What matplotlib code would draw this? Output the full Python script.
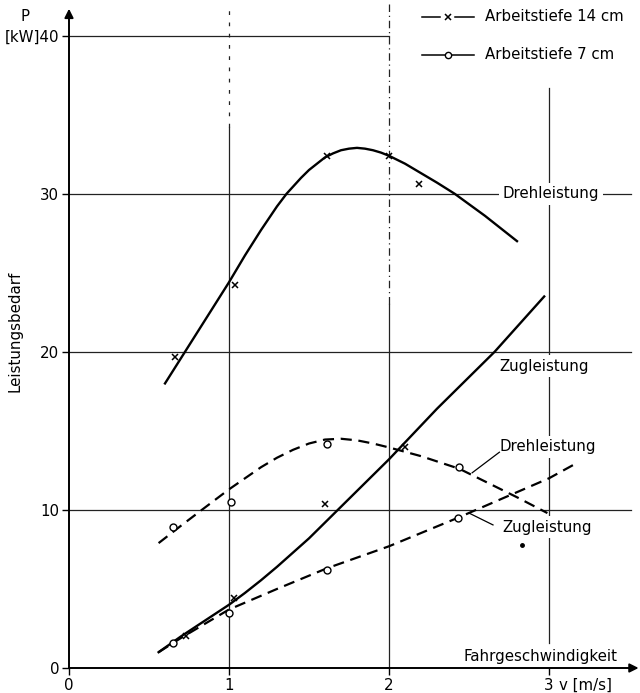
import matplotlib.pyplot as plt

# Leistungsbedarf über Fahrgeschwindigkeit, zwei Arbeitstiefen
# Arbeitstiefe 14 cm (durchgezogen, Messpunkte x)
dreh14_v = [0.6, 0.725, 0.85, 1.0, 1.1, 1.2, 1.3, 1.36, 1.45, 1.5, 1.55, 1.6, 1.65, 1.7, 1.75, 1.8,
            1.85, 1.9, 1.95, 2.0, 2.1, 2.2, 2.3, 2.41, 2.6, 2.8]
dreh14_p = [18.0, 20.0, 22.0, 24.4, 26.1, 27.7, 29.2, 30.0, 31.0, 31.5, 31.9, 32.3, 32.55, 32.75, 32.85, 32.9,
            32.85, 32.75, 32.6, 32.4, 31.9, 31.3, 30.7, 30.0, 28.6, 27.0]
zug14_v = [0.56, 0.7, 0.85, 1.0, 1.1, 1.2, 1.3, 1.4, 1.5, 1.6, 1.68, 2.0, 2.3, 2.66, 2.97]
zug14_p = [1.0, 2.0, 3.0, 4.0, 4.75, 5.55, 6.4, 7.3, 8.2, 9.2, 10.0, 13.2, 16.4, 20.0, 23.5]
mess14_v = [0.66, 1.04, 1.61, 2.0, 2.19, 0.73, 1.03, 1.6, 2.1]
mess14_p = [19.7, 24.2, 32.4, 32.4, 30.6, 2.0, 4.4, 10.4, 14.0]

# Arbeitstiefe 7 cm (gestrichelt, Messpunkte o)
dreh7_v = [0.56, 0.7, 0.83, 1.0, 1.1, 1.2, 1.3, 1.4, 1.5, 1.6, 1.7, 1.8, 1.9, 2.0, 2.2, 2.44, 2.6, 2.8, 2.99]
dreh7_p = [7.9, 9.0, 10.0, 11.3, 12.0, 12.7, 13.3, 13.8, 14.2, 14.45, 14.5, 14.4, 14.2, 13.95, 13.4, 12.6, 11.8, 10.8, 9.8]
zug7_v = [0.56, 0.7, 0.85, 1.0, 1.3, 1.61, 2.0, 2.43, 3.0, 3.18]
zug7_p = [1.0, 1.9, 2.8, 3.7, 5.0, 6.3, 7.7, 9.5, 12.0, 13.0]
mess7_v = [0.65, 1.01, 1.61, 2.44, 0.65, 1.0, 1.61, 2.43]
mess7_p = [8.9, 10.5, 14.2, 12.7, 1.6, 3.5, 6.2, 9.5]

fleck_v = [2.83]
fleck_p = [7.8]

x_ticks = [0, 1, 2, 3]
x_ticklabels = ['0', '1', '2', '3']
y_ticks = [0, 10, 20, 30, 40]
y_ticklabels = ['0', '10', '20', '30', '[kW]40']

FS = 10.8
grid_kw = dict(color='#222222', lw=0.9, zorder=1)

fig = plt.figure(figsize=(6.4, 6.93), dpi=100)
ax = fig.add_axes([69 / 640, 25 / 693, 568 / 640, 664 / 693])
ax.set_xlim(0, 3.55)
ax.set_ylim(0, 42)
for s in ax.spines.values():
    s.set_visible(False)

ax.set_xticks(x_ticks)
ax.set_xticklabels(x_ticklabels, fontsize=FS)
ax.set_yticks(y_ticks)
ax.set_yticklabels(y_ticklabels, fontsize=FS)
ax.tick_params(direction='out', length=5, width=1, pad=2)

# Achsen mit Pfeilen
ax.annotate('', xy=(0, 41.7), xytext=(0, 0),
            arrowprops=dict(arrowstyle='-|>', lw=1.4, color='k', mutation_scale=13, shrinkA=0, shrinkB=0))
ax.annotate('', xy=(3.56, 0), xytext=(0, 0), annotation_clip=False,
            arrowprops=dict(arrowstyle='-|>', lw=1.4, color='k', mutation_scale=13, shrinkA=0, shrinkB=0))

# Rasterlinien
for y in [10, 20, 30]:
    ax.plot([0, 3.51], [y, y], **grid_kw)
ax.plot([0, 2.0], [40, 40], **grid_kw)
ax.plot([1, 1], [0, 34.2], **grid_kw)
ax.plot([1, 1], [34.2, 42], color='#222222', lw=0.9, ls=(0, (3, 6)), zorder=1, clip_on=False)
ax.plot([2, 2], [0, 23.0], **grid_kw)
ax.plot([2, 2], [23.0, 42], color='#222222', lw=0.9, ls=(0, (6, 3, 1, 3)), zorder=1, clip_on=False)
ax.plot([3, 3], [1.6, 36.7], **grid_kw)

# Kurven
ax.plot(dreh14_v, dreh14_p, color='k', lw=1.7, zorder=3, solid_joinstyle='round')
ax.plot(zug14_v, zug14_p, color='k', lw=1.7, zorder=3, solid_joinstyle='round')
ax.plot(dreh7_v, dreh7_p, color='k', lw=1.6, ls=(0, (5, 3)), zorder=3)
ax.plot(zug7_v, zug7_p, color='k', lw=1.6, ls=(0, (5, 3)), zorder=3)
ax.plot(mess14_v, mess14_p, ls='none', marker='x', ms=4, mew=1.1, color='k', zorder=4)
ax.plot(mess7_v, mess7_p, ls='none', marker='o', ms=5, mew=1.0, mfc='white', mec='k', zorder=4)
ax.plot(fleck_v, fleck_p, ls='none', marker='o', ms=2.5, color='k', zorder=4)

# Beschriftungen
box = dict(facecolor='white', edgecolor='none', pad=2.5)
ax.text(2.71, 30.0, 'Drehleistung', fontsize=FS, va='center', ha='left', bbox=box, zorder=2)
ax.text(2.69, 19.1, 'Zugleistung', fontsize=FS, va='center', ha='left', bbox=box, zorder=2)
ax.text(2.69, 14.0, 'Drehleistung', fontsize=FS, va='center', ha='left', bbox=box, zorder=2)
ax.text(2.71, 8.9, 'Zugleistung', fontsize=FS, va='center', ha='left', bbox=box, zorder=2)
ax.plot([2.52, 2.69], [12.35, 13.65], color='k', lw=0.9, zorder=3)
ax.plot([2.50, 2.65], [9.8, 9.05], color='k', lw=0.9, zorder=3)
ax.text(3.43, 0.75, 'Fahrgeschwindigkeit', fontsize=FS, va='center', ha='right', bbox=box, zorder=2)
ax.text(3.065, -1.08, 'v [m/s]', fontsize=FS, va='center', ha='left', clip_on=False)
ax.text(-0.275, 41.2, 'P', fontsize=FS, va='center', ha='center', clip_on=False)
ax.text(-0.34, 21.3, 'Leistungsbedarf', fontsize=FS, va='center', ha='center', rotation=90, clip_on=False)

# Legende
for y, mk in [(41.2, 'x'), (38.8, 'o')]:
    if mk == 'x':
        ax.plot([2.206, 2.32], [y, y], color='k', lw=1.1, clip_on=False)
        ax.plot([2.415, 2.53], [y, y], color='k', lw=1.1, clip_on=False)
        ax.plot([2.368], [y], marker='x', ms=4, mew=1.1, color='k', clip_on=False)
    else:
        ax.plot([2.206, 2.53], [y, y], color='k', lw=1.1, clip_on=False)
        ax.plot([2.368], [y], marker='o', ms=4.5, mew=1.0, mfc='white', mec='k', clip_on=False)
ax.text(2.6, 41.2, 'Arbeitstiefe 14 cm', fontsize=FS, va='center', ha='left', clip_on=False)
ax.text(2.6, 38.8, 'Arbeitstiefe 7 cm', fontsize=FS, va='center', ha='left', clip_on=False)

fig.savefig('out.png', dpi=100)
